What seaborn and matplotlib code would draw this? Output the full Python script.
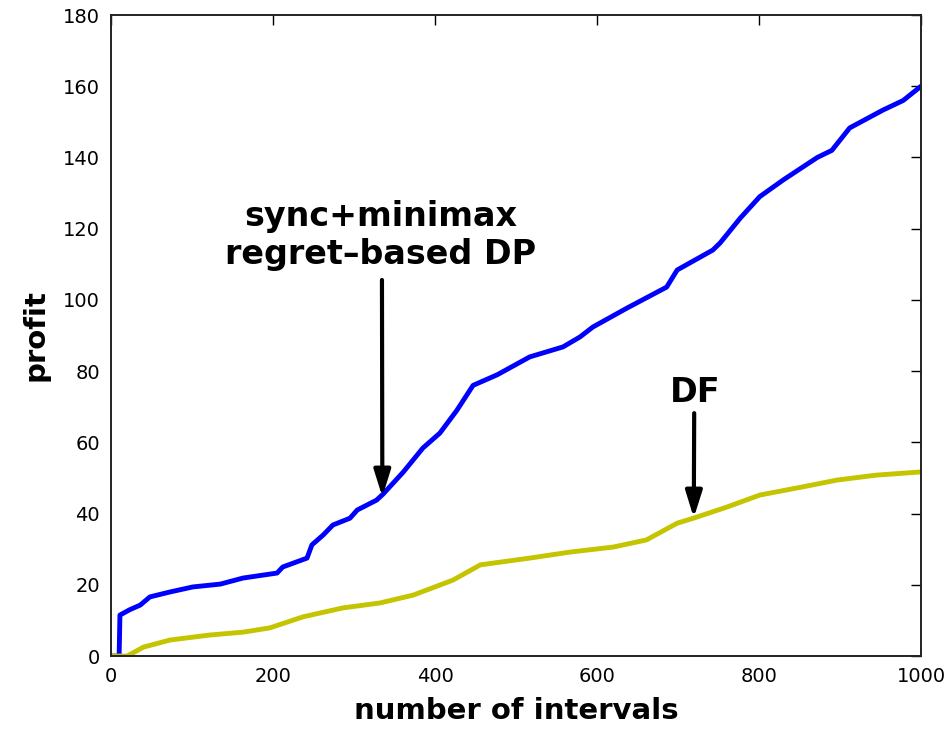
import matplotlib
matplotlib.use("Agg")
import matplotlib.pyplot as plt
import seaborn as sns
import pandas as pd

# ---- data ----
dp_x = [0, 10, 11, 23, 36, 48, 73, 101, 135, 163, 205, 212, 242, 248, 262, 274,
        295, 304, 328, 336, 361, 385, 406, 427, 447, 477, 517, 558, 579, 595,
        637, 686, 699, 743, 752, 777, 801, 830, 872, 890, 912, 953, 978, 1000]
dp_y = [0, 0, 11.5, 13, 14.3, 16.6, 18, 19.4, 20.2, 21.9, 23.3, 25, 27.5, 31.2,
        34, 36.8, 38.7, 41, 43.8, 45.5, 51.7, 58.4, 62.6, 69, 76, 79, 84, 86.8,
        89.6, 92.4, 97.7, 103.6, 108.4, 114, 116, 123, 129, 133.7, 140, 142,
        148.3, 153.3, 156, 160]

df_x = [0, 20, 40, 73, 122, 163, 196, 237, 286, 332, 373, 422, 456, 517, 567,
        620, 661, 699, 719, 760, 801, 854, 896, 945, 1000]
df_y = [0, 0, 2.5, 4.5, 5.9, 6.7, 7.9, 11, 13.5, 14.9, 17.1, 21.3, 25.6, 27.5,
        29.2, 30.6, 32.6, 37.3, 38.7, 41.8, 45.2, 47.5, 49.4, 50.8, 51.7]

x_ticks = [0, 200, 400, 600, 800, 1000]
y_ticks = [0, 20, 40, 60, 80, 100, 120, 140, 160, 180]

sns.set_theme(style="white")
plt.rcParams["font.family"] = ["DejaVu Sans"]
plt.rcParams.update({"text.color": "black", "axes.labelcolor": "black",
                     "xtick.color": "black", "ytick.color": "black"})

fig = plt.figure(figsize=(9.53, 7.29), dpi=100)
ax = fig.add_axes([0.1165, 0.1001, 0.8499, 0.8793])

dp = pd.DataFrame({"x": dp_x, "y": dp_y})
dfr = pd.DataFrame({"x": df_x, "y": df_y})
sns.lineplot(data=dp, x="x", y="y", ax=ax, color="#0000ff", lw=3.5,
             estimator=None, sort=False)
sns.lineplot(data=dfr, x="x", y="y", ax=ax, color="#c4c400", lw=3.5,
             estimator=None, sort=False)

ax.set_xlim(0, 1000)
ax.set_ylim(0, 180)
ax.set_xticks(x_ticks)
ax.set_yticks(y_ticks)
ax.set_xticklabels([str(v) for v in x_ticks], fontsize=14)
ax.set_yticklabels([str(v) for v in y_ticks], fontsize=14)
ax.tick_params(direction="in", length=7, width=1, top=True, right=True,
               colors="black", pad=8)
for s in ax.spines.values():
    s.set_visible(True)
    s.set_color("#222222")
    s.set_linewidth(1.4)
ax.grid(False)

ax.set_xlabel("number of intervals", fontsize=21, fontweight="bold", labelpad=8)
ax.set_ylabel("profit", fontsize=21, fontweight="bold", labelpad=10)

# annotations
arrow_style = "-|>,head_length=1.6,head_width=0.5"
ax.annotate("", xy=(335, 44.7), xytext=(334.5, 105.6),
            arrowprops=dict(arrowstyle=arrow_style, mutation_scale=10,
                            color="black", lw=3, shrinkA=0, shrinkB=0))
ax.text(333, 118, "sync+minimax\nregret–based DP", ha="center", va="center",
        fontsize=24, fontweight="bold", linespacing=1.2)

ax.annotate("", xy=(719.5, 38.8), xytext=(720, 68.2),
            arrowprops=dict(arrowstyle=arrow_style, mutation_scale=10,
                            color="black", lw=3, shrinkA=0, shrinkB=0))
ax.text(721, 74.1, "DF", ha="center", va="center", fontsize=24, fontweight="bold")

fig.savefig("out.png", dpi=100)
